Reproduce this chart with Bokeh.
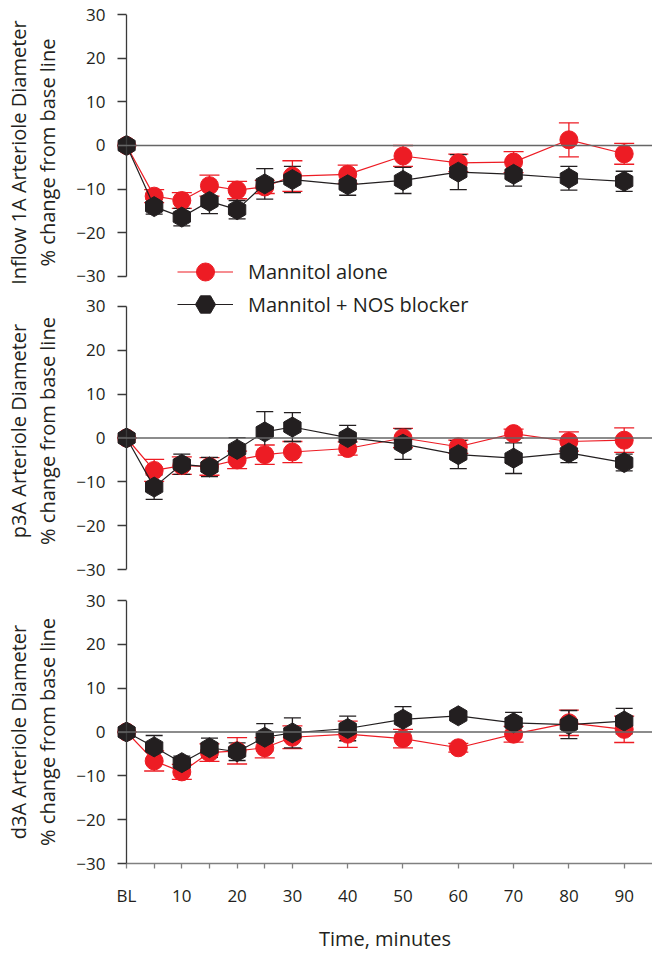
import math
from bokeh.plotting import figure
from bokeh.models import (ColumnDataSource, Range1d, FixedTicker, Whisker, TeeHead,
                          Span, Legend, LegendItem, LinearAxis)
from bokeh.layouts import column
from bokeh.embed import file_html
from bokeh.resources import INLINE

# ---------------- data ----------------
time_min = [0, 5, 10, 15, 20, 25, 30, 40, 50, 60, 70, 80, 90]
x_tick_labels = {0: "BL", 5: "", 10: "10", 15: "", 20: "20", 25: "", 30: "30",
                 40: "40", 50: "50", 60: "60", 70: "70", 80: "80", 90: "90"}
y_ticks = [-30, -20, -10, 0, 10, 20, 30]

series_names = ["Mannitol alone", "Mannitol + NOS blocker"]
panel_titles = ["Inflow 1A Arteriole Diameter", "p3A Arteriole Diameter", "d3A Arteriole Diameter"]
y_title = "% change from base line"
x_title = "Time, minutes"

inflow_mannitol = [0, -11.6, -12.6, -9.2, -10.2, -9.5, -7.0, -6.6, -2.4, -4.0, -3.8, 1.3, -1.9]
inflow_mannitol_err = [0, 1.5, 1.8, 2.4, 2.0, 1.5, 3.5, 2.1, 2.4, 2.0, 2.4, 3.9, 2.4]
inflow_nos = [0, -14.0, -16.4, -12.8, -14.7, -8.8, -7.8, -9.0, -8.0, -6.1, -6.6, -7.5, -8.2]
inflow_nos_err = [0, 1.7, 2.0, 2.8, 2.1, 3.5, 3.0, 2.4, 3.0, 4.0, 2.7, 2.7, 2.3]

p3a_mannitol = [0, -7.4, -6.3, -6.5, -5.0, -3.8, -3.2, -2.4, 0.0, -2.0, 1.0, -0.8, -0.5]
p3a_mannitol_err = [0, 2.5, 2.0, 2.0, 2.0, 2.2, 2.4, 1.5, 2.2, 1.5, 1.0, 2.2, 2.8]
p3a_nos = [0, -11.2, -6.0, -6.6, -2.6, 1.4, 2.5, 0.1, -1.4, -3.8, -4.6, -3.4, -5.6]
p3a_nos_err = [0, 2.8, 2.3, 2.2, 2.7, 4.6, 3.3, 2.8, 3.5, 3.2, 3.5, 2.2, 1.9]

d3a_mannitol = [0, -6.6, -9.1, -4.7, -4.3, -3.6, -1.2, -0.5, -1.5, -3.6, -0.5, 2.1, 0.6]
d3a_mannitol_err = [0, 2.3, 1.7, 2.0, 3.0, 2.3, 2.6, 3.0, 2.1, 1.0, 1.8, 2.9, 3.0]
d3a_nos = [0, -3.4, -7.0, -3.6, -4.5, -1.2, -0.2, 0.8, 2.9, 3.7, 2.1, 1.7, 2.5]
d3a_nos_err = [0, 2.6, 1.5, 2.2, 2.0, 3.1, 3.4, 2.8, 2.9, 0.8, 2.4, 3.2, 2.9]

# ---------------- style ----------------
RED = "#ED1C24"
BLK = "#231F20"
FONT = "Open Sans"
TXT = "#231F20"
AX = "#3a3a3a"
X_START, X_END = -1.63, 95.12


def make_panel(title, red, red_err, blk, blk_err, height, b_top, b_bottom, y_lo, y_hi, show_x):
    p = figure(width=652, height=height, output_backend="svg", toolbar_location=None,
               x_range=Range1d(X_START, X_END), y_range=Range1d(y_lo, y_hi),
               x_axis_location=("below" if show_x else None),
               min_border_left=117, min_border_right=0,
               min_border_top=b_top, min_border_bottom=b_bottom)
    p.outline_line_color = None
    p.grid.visible = False
    p.background_fill_color = "white"
    p.border_fill_color = "white"

    # tick labels + titles at the frame's left edge
    yax = p.yaxis[0]
    yax.ticker = FixedTicker(ticks=y_ticks)
    yax.axis_line_color = None
    yax.major_tick_line_color = AX
    yax.major_tick_line_width = 1.3
    yax.major_tick_out = 0
    yax.major_tick_in = 9
    yax.minor_tick_out = 0
    yax.minor_tick_in = 0
    yax.major_label_standoff = 12
    yax.major_label_text_font = FONT
    yax.major_label_text_font_size = "17px"
    yax.major_label_text_color = TXT
    yax.axis_label = title + "\n" + y_title
    yax.axis_label_standoff = 12
    yax.axis_label_text_font = FONT
    yax.axis_label_text_font_size = "20px"
    yax.axis_label_text_font_style = "normal"
    yax.axis_label_text_line_height = 1.1
    yax.axis_label_text_color = TXT

    # the axis line itself, at BL (x = 0), spanning -30..30
    yline = LinearAxis(fixed_location=0, bounds=(-30, 30), ticker=FixedTicker(ticks=[]),
                       axis_line_color=AX, axis_line_width=1.3,
                       major_tick_in=0, major_tick_out=0, minor_tick_in=0, minor_tick_out=0,
                       major_label_standoff=0, axis_label_standoff=0,
                       major_label_text_font_size="0px")
    p.add_layout(yline, "left")

    if show_x:
        xax = p.xaxis[0]
        xax.ticker = FixedTicker(ticks=time_min)
        xax.major_label_overrides = x_tick_labels
        xax.bounds = (0, X_END)
        xax.axis_line_color = "#808080"
        xax.axis_line_width = 1.3
        xax.major_tick_line_color = "#808080"
        xax.major_tick_line_width = 1.3
        xax.major_tick_out = 5
        xax.major_tick_in = 0
        xax.minor_tick_out = 0
        xax.minor_tick_in = 0
        xax.major_label_standoff = 15
        xax.major_label_text_font = FONT
        xax.major_label_text_font_size = "17px"
        xax.major_label_text_color = TXT
        xax.axis_label = x_title
        xax.axis_label_standoff = 15
        xax.axis_label_text_font = FONT
        xax.axis_label_text_font_size = "20px"
        xax.axis_label_text_font_style = "normal"
        xax.axis_label_text_color = TXT

    p.add_layout(Span(location=0, dimension="width", line_color="#666666", line_width=1.3))

    renderers = {}
    for key, vals, errs, color, marker, size, cap in (
            ("red", red, red_err, RED, "circle", 18, 20),
            ("blk", blk, blk_err, BLK, "hex", 20, 17)):
        src = ColumnDataSource(dict(
            x=time_min, y=vals,
            up=[v + e for v, e in zip(vals, errs)],
            lo=[v - e for v, e in zip(vals, errs)]))
        p.add_layout(Whisker(source=src, base="x", upper="up", lower="lo",
                             line_color=color, line_width=1.3,
                             upper_head=TeeHead(size=cap, line_color=color, line_width=1.3),
                             lower_head=TeeHead(size=cap, line_color=color, line_width=1.3)))
        lr = p.line("x", "y", source=src, line_color=color, line_width=1.2)
        sr = p.scatter("x", "y", source=src, marker=marker, size=size,
                       angle=(math.pi / 2 if marker == "hex" else 0),
                       fill_color=color, line_color=color)
        renderers[key] = (lr, sr)
    return p, renderers


# top: frame 14..290 (30 at 14, -30 at 276)
p1, r1 = make_panel(panel_titles[0], inflow_mannitol, inflow_mannitol_err,
                    inflow_nos, inflow_nos_err, 290, 14, 0, -33.21, 30, False)
# middle: frame 292..569 (30 at 306)
p2, r2 = make_panel(panel_titles[1], p3a_mannitol, p3a_mannitol_err,
                    p3a_nos, p3a_nos_err, 294, 2, 15, -30, 33.19, False)
# bottom: frame 600..863
p3, r3 = make_panel(panel_titles[2], d3a_mannitol, d3a_mannitol_err,
                    d3a_nos, d3a_nos_err, 370, 16, 91, -30, 30, True)


def add_legend(p, label, rends, glyph_h, loc):
    lg = Legend(items=[LegendItem(label=label, renderers=list(rends))],
                location=loc, orientation="vertical",
                glyph_width=56, glyph_height=glyph_h, label_height=glyph_h,
                label_standoff=15, padding=0, margin=0, spacing=0,
                border_line_color=None, background_fill_alpha=0,
                label_text_font=FONT, label_text_font_size="20px", label_text_color=TXT)
    p.add_layout(lg, "center")


add_legend(p1, series_names[0], r1["red"], 45, (60, -3.5))
add_legend(p2, series_names[1], r2["blk"], 50, (60, 240))

layout = column(p1, p2, p3, spacing=0)
open("out.html", "w").write(file_html(layout, INLINE))
